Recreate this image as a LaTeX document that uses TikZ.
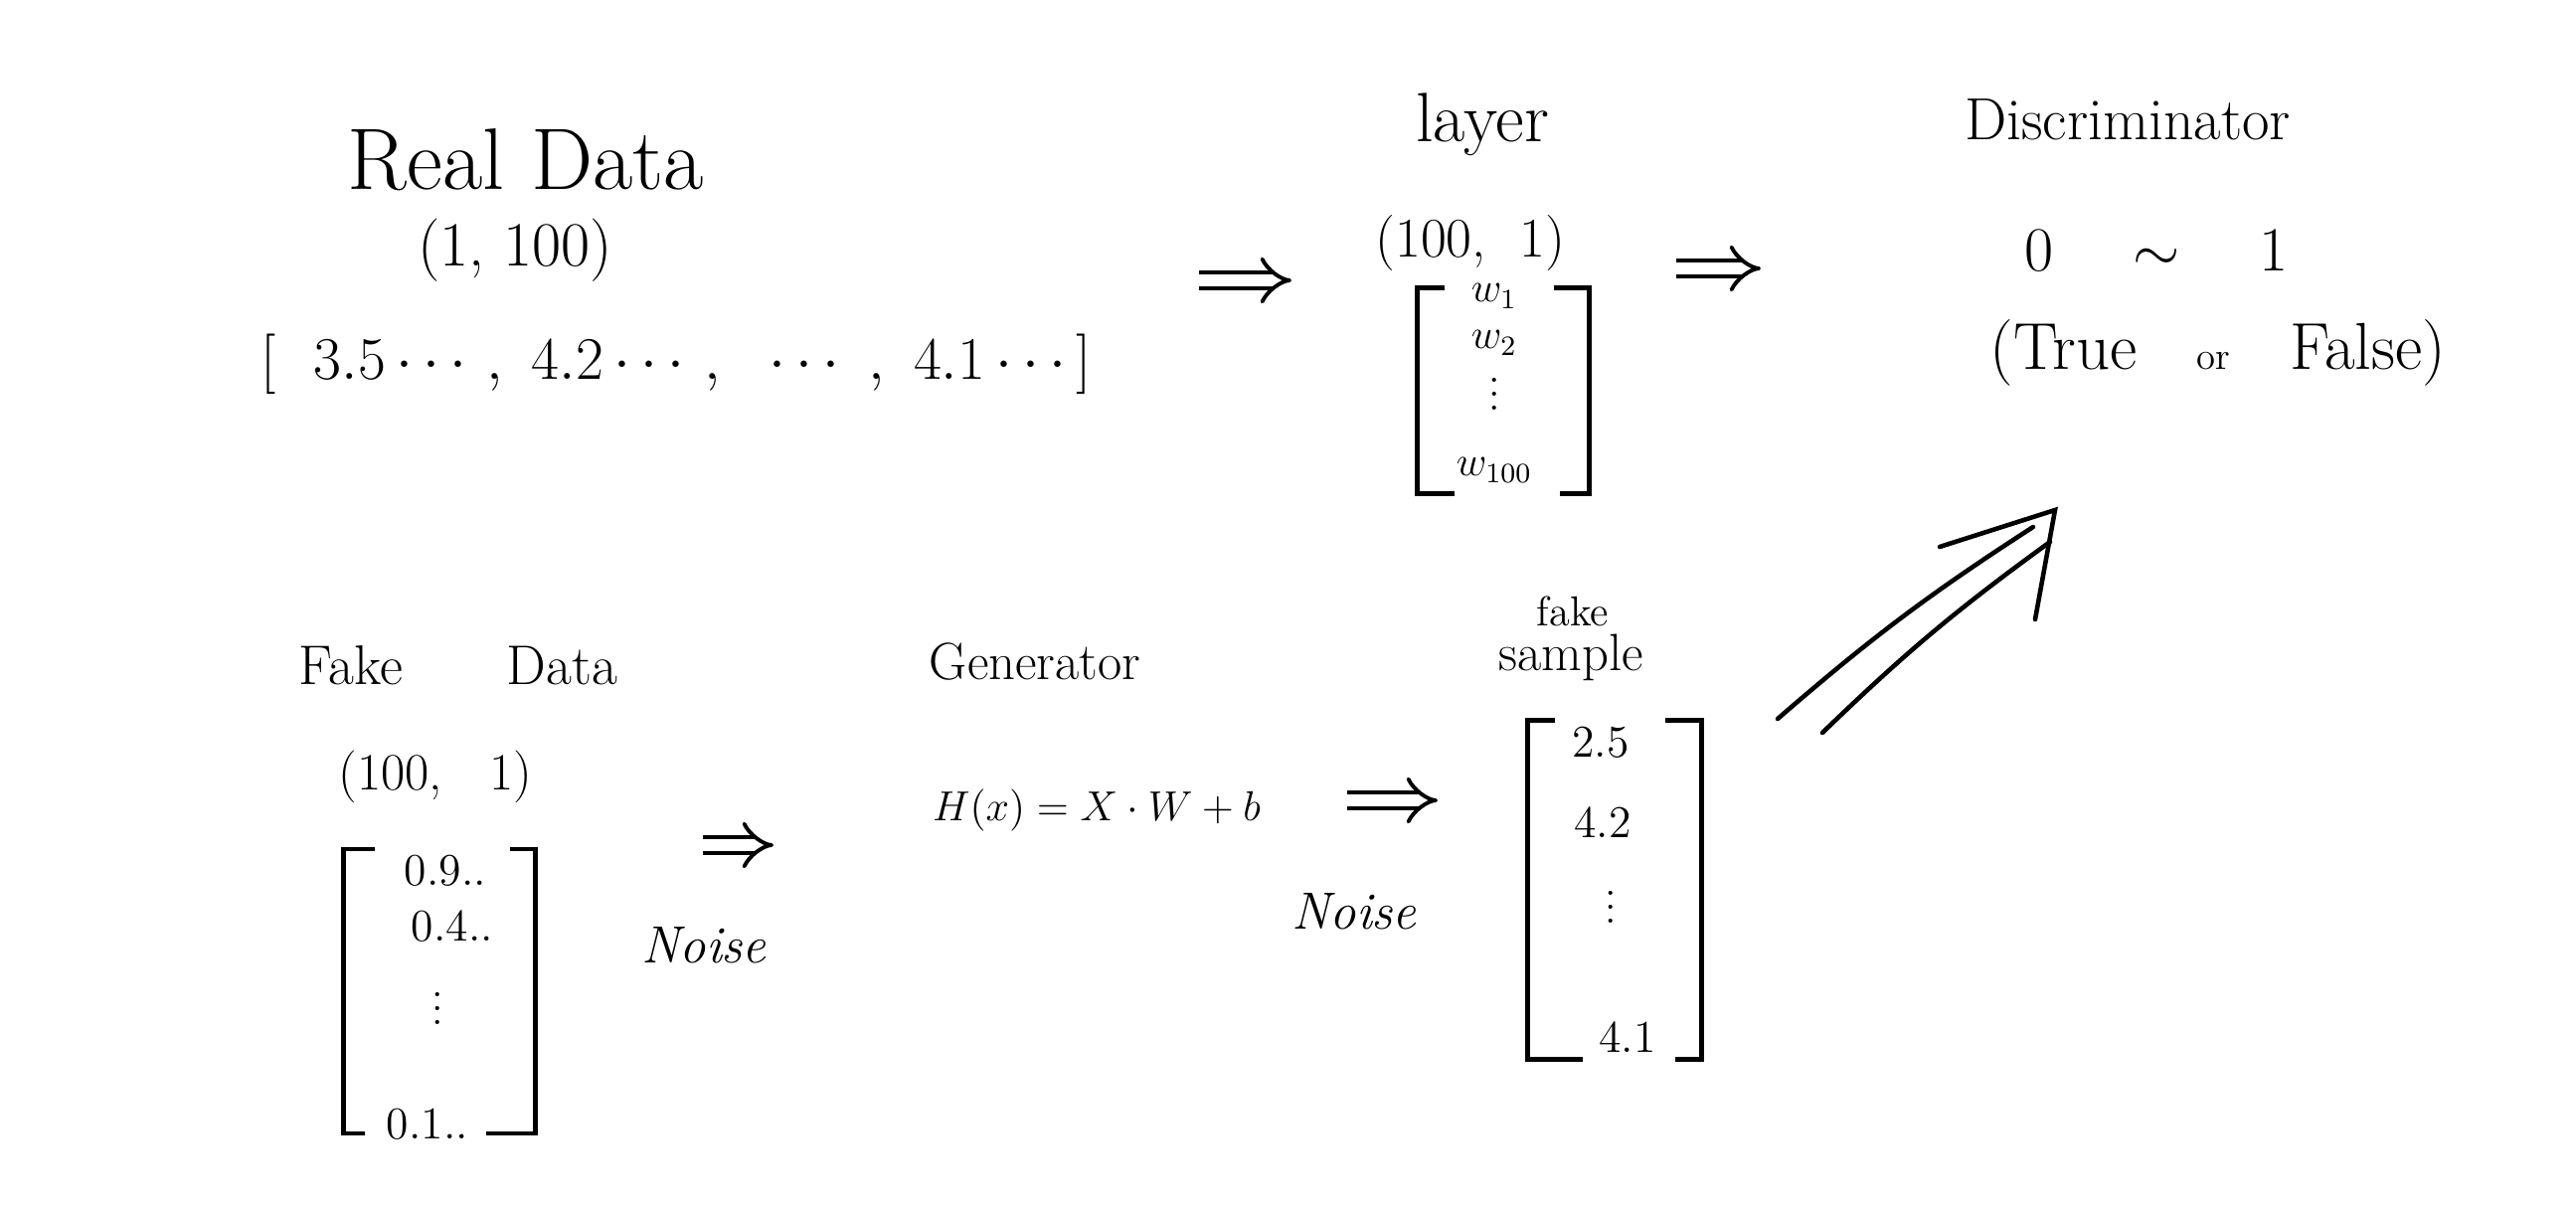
\documentclass[tikz,border=0pt]{standalone}
\usepackage{amsmath}
\usetikzlibrary{arrows.meta,positioning,calc}

\begin{document}
\begin{tikzpicture}[
    x=1cm,y=1cm,
    head/.style={inner sep=1pt, font=\fontsize{17}{20}\selectfont},
    dimlbl/.style={inner sep=1pt, font=\fontsize{16}{19}\selectfont},
    entry/.style={inner sep=1pt, font=\fontsize{12}{14}\selectfont},
    vdot/.style={inner sep=0pt, text height=9pt, text depth=0pt},
    vecbox/.style={inner sep=0pt, draw=none},
    brk/.style={line width=1.3pt, line join=miter},
    imp/.style={double, double distance=3.5pt, line width=1.1pt, -{Implies}},
    bigarrow/.style={line width=1.3pt, line cap=round}
  ]
    \useasboundingbox (0,0) rectangle (25.91,12.15);

    % Real Data
    \node[head, font=\fontsize{25}{29}\selectfont] (realt) at (5.29,10.54) {Real Data};
    \node[dimlbl, font=\fontsize{18}{21}\selectfont] (realdim) at (5.18,9.63) {(1,\ 100)};
    \node[inner sep=1pt, font=\fontsize{18}{22}\selectfont] (realvec) at (6.80,8.49)
      {$[\ \ 3.5\cdots,\ 4.2\cdots,\ \ \cdots\ ,\ 4.1\cdots]$};

    % layer
    \node[head, font=\fontsize{20}{24}\selectfont] (layert) at (14.91,10.90) {layer};
    \node[dimlbl] (layerdim) at (14.79,9.71) {(100,\ \ 1)};
    \node[vecbox, minimum width=1.72cm, minimum height=2.06cm] (wvec) at (15.12,8.22) {};
    \draw[brk] ([xshift=0.28cm]wvec.north west) -| (wvec.south west) -- ++(0.38,0);
    \draw[brk] ([xshift=-0.36cm]wvec.north east) -| (wvec.south east) -- ++(-0.30,0);
    \node[entry] (w1)   at (15.03,9.17) {$w_1$};
    \node[entry] (w2)   at (15.03,8.70) {$w_2$};
    \node[entry, vdot] (wdot) at (15.03,8.18) {$\vdots$};
    \node[entry] (w100) at (15.03,7.42) {$w_{100}$};

    % Discriminator
    \node[head] (disct) at (21.40,10.95) {Discriminator};
    \node[dimlbl, font=\fontsize{18}{21}\selectfont] (range) at (21.69,9.63) {0\hspace{0.8cm}$\sim$\hspace{0.8cm}1};
    \node[dimlbl, font=\fontsize{19}{22}\selectfont] (tf) at (22.31,8.60)
      {(True\hspace{0.6cm}{\fontsize{11}{13}\selectfont or}\hspace{0.6cm}False)};

    % Fake Data
    \node[head, font=\fontsize{16}{19}\selectfont] (faket) at (4.61,5.46) {Fake\hspace{1.05cm}Data};
    \node[dimlbl, font=\fontsize{15}{18}\selectfont] (fakedim) at (4.38,4.34) {(100,\ \ \ 1)};
    \node[vecbox, minimum width=1.92cm, minimum height=2.85cm] (zvec) at (4.42,2.18) {};
    \draw[brk] ([xshift=0.32cm]zvec.north west) -| (zvec.south west) -- ++(0.22,0);
    \draw[brk] ([xshift=-0.26cm]zvec.north east) -| (zvec.south east) -- ++(-0.50,0);
    \node[entry, font=\fontsize{13}{15}\selectfont] (z1) at (4.48,3.39) {0.9..};
    \node[entry, font=\fontsize{13}{15}\selectfont] (z2) at (4.55,2.83) {0.4..};
    \node[entry, vdot] (zdot) at (4.40,2.00) {$\vdots$};
    \node[entry, font=\fontsize{13}{15}\selectfont] (zn) at (4.30,0.84) {0.1..};
    \node[head, font=\fontsize{15}{18}\selectfont\itshape] (noise1) at (7.08,2.64) {Noise};

    % Generator
    \node[head, font=\fontsize{15}{18}\selectfont] (gent) at (10.41,5.49) {Generator};
    \node[dimlbl, font=\fontsize{13}{16}\selectfont] (hx) at (11.03,4.00) {$H(x) = X\cdot W + b$};
    \node[head, font=\fontsize{15}{18}\selectfont\itshape] (noise2) at (13.62,2.98) {Noise};

    % fake sample
    \node[head, font=\fontsize{12}{14}\selectfont] (fakew) at (15.82,6.00) {fake};
    \node[head, font=\fontsize{15}{18}\selectfont] (samplew) at (15.80,5.54) {sample};
    \node[vecbox, minimum width=1.74cm, minimum height=3.40cm] (svec) at (16.24,3.20) {};
    \draw[brk] ([xshift=0.28cm]svec.north west) -| (svec.south west) -- ++(0.56,0);
    \draw[brk] ([xshift=-0.37cm]svec.north east) -| (svec.south east) -- ++(-0.27,0);
    \node[entry, font=\fontsize{13}{15}\selectfont] (s1) at (16.10,4.68) {2.5};
    \node[entry, font=\fontsize{13}{15}\selectfont] (s2) at (16.12,3.88) {4.2};
    \node[entry, vdot] (sdot) at (16.20,3.02) {$\vdots$};
    \node[entry, font=\fontsize{13}{15}\selectfont] (sn) at (16.37,1.72) {4.1};

    % Pfeile
    \coordinate (a1s) at (12.06,9.33);  \coordinate (a1e) at (12.99,9.33);
    \coordinate (a2s) at (16.86,9.45);  \coordinate (a2e) at (17.71,9.45);
    \coordinate (a3s) at (7.07,3.65);   \coordinate (a3e) at (7.78,3.65);
    \coordinate (a4s) at (13.55,4.10);  \coordinate (a4e) at (14.46,4.10);
    \draw[imp] (a1s) -- (a1e);
    \draw[imp] (a2s) -- (a2e);
    \draw[imp] (a3s) -- (a3e);
    \draw[imp] (a4s) -- (a4e);

    % grosser Pfeil zum Discriminator
    \coordinate (bigtailA) at (17.88,4.92); \coordinate (bigendA) at (20.45,6.85);
    \coordinate (bigtailB) at (18.33,4.78); \coordinate (bigendB) at (20.62,6.70);
    \coordinate (bigtip) at (20.67,7.02);
    \draw[bigarrow] (bigtailA) to[bend left=4] (bigendA);
    \draw[bigarrow] (bigtailB) to[bend left=4] (bigendB);
    \draw[bigarrow] ($(bigtip)+(-1.16,-0.37)$) -- (bigtip) -- ($(bigtip)+(-0.20,-1.10)$);
  \end{tikzpicture}
\end{document}
